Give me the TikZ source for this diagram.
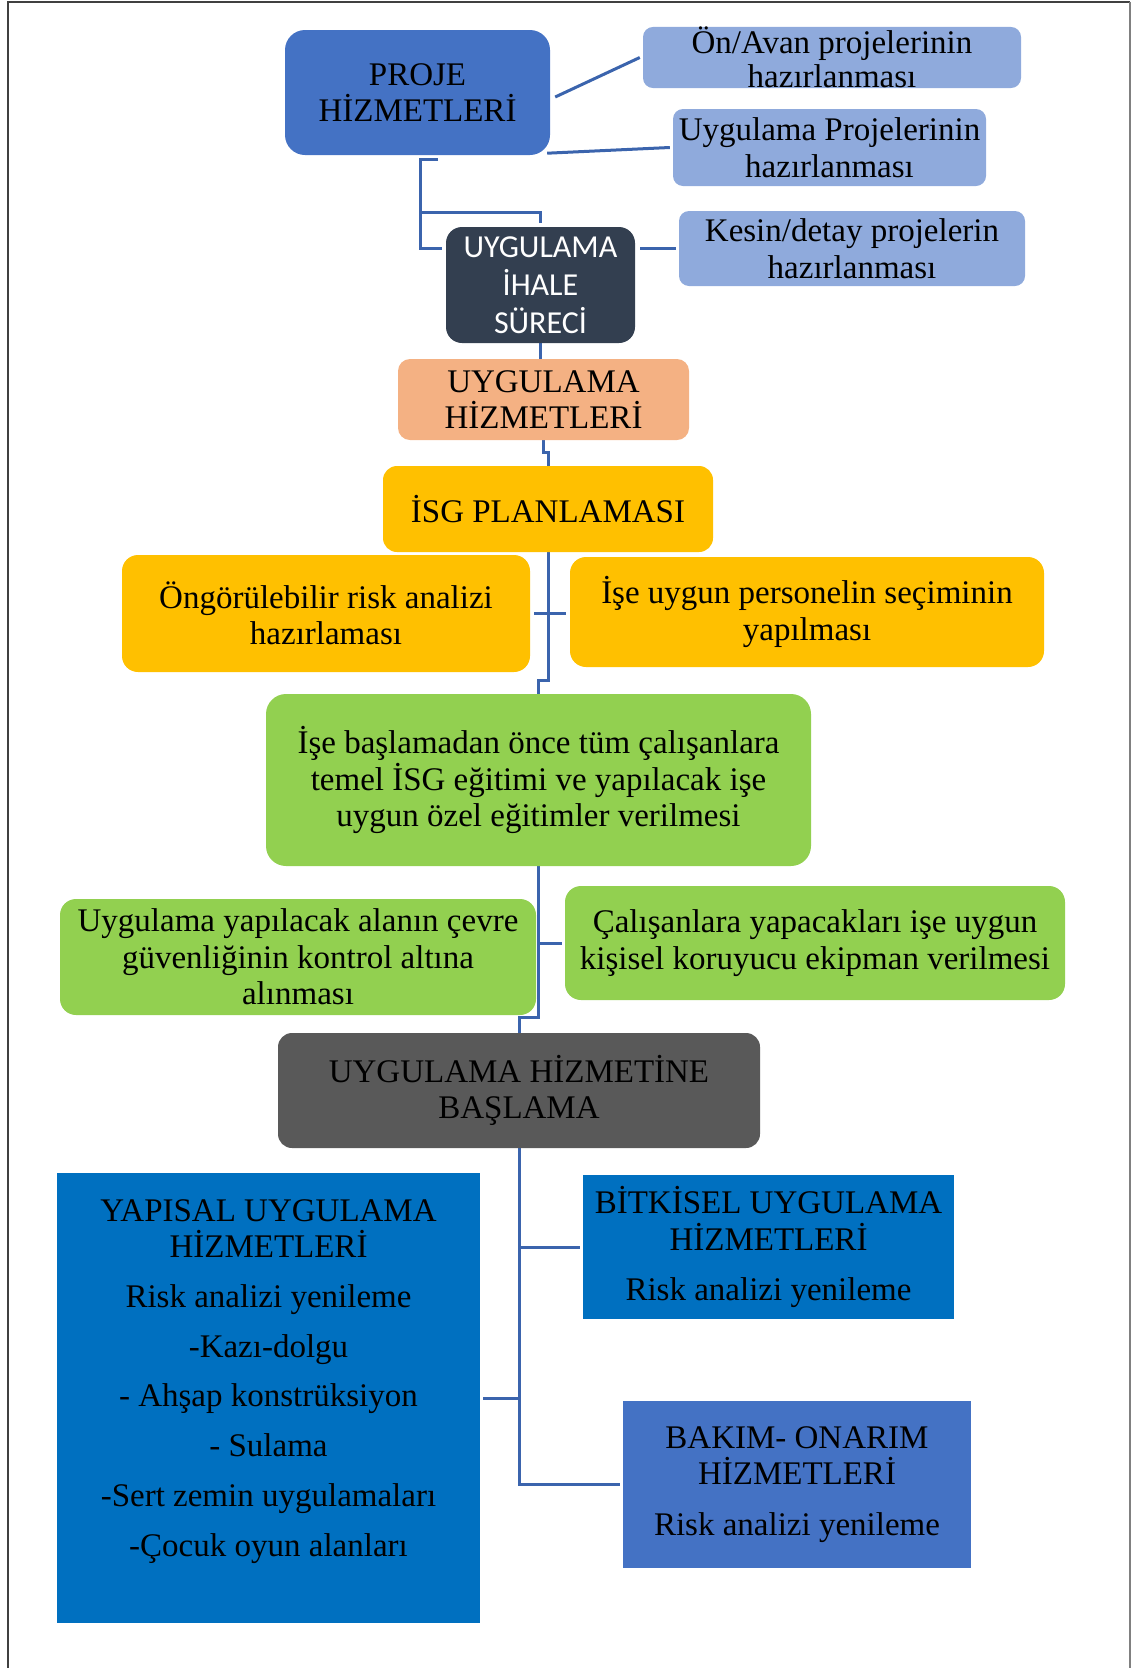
\documentclass[tikz,border=0pt]{standalone}
\usepackage{fontspec}
\setmainfont{Liberation Serif}
\newfontfamily\calibrifont{Carlito}
\usetikzlibrary{backgrounds,calc}
\definecolor{projeblue}{HTML}{4472C4}
\definecolor{lightblue}{HTML}{8FAADC}
\definecolor{slate}{HTML}{333F50}
\definecolor{peach}{HTML}{F4B183}
\definecolor{gold}{HTML}{FFC000}
\definecolor{leaf}{HTML}{92D050}
\definecolor{graybox}{HTML}{595959}
\definecolor{strongblue}{HTML}{0070C0}
\definecolor{linkblue}{HTML}{3B64AD}
\tikzset{
  box/.style={draw=none, inner sep=0pt, align=center, text=black,
    font=\fontsize{33}{36.5}\selectfont},
  txt/.style={inner sep=0pt, align=center, text=black,
    font=\fontsize{33}{36.5}\selectfont},
  conn/.style={draw=linkblue, line width=3pt},
  frameline/.style={line width=2pt}
}
\begin{document}
\begin{tikzpicture}[x=1pt,y=-1pt]
\useasboundingbox (0,0) rectangle (1131,1668);
% frame
\draw[frameline, draw=black!75] (7.5,1668) -- (7.5,1.5) -- (1129.5,1.5);
\draw[frameline, draw=black!50] (1129.5,1.5) -- (1129.5,1668);

% top part
\node[box, fill=projeblue, rounded corners=20pt, minimum width=265pt, minimum height=125pt] (proje) at (417.5,92.5) {PROJE\\HİZMETLERİ};
\node[box, fill=lightblue, rounded corners=10pt, minimum width=378pt, minimum height=61pt, font=\fontsize{33}{34}\selectfont] (onavan) at (832,57.5) {Ön/Avan projelerinin\\hazırlanması};
\node[box, fill=lightblue, rounded corners=10pt, minimum width=313pt, minimum height=77pt] (uygproj) at (829.5,147.5) {Uygulama Projelerinin\\hazırlanması};
\node[box, fill=lightblue, rounded corners=10pt, minimum width=346pt, minimum height=75pt] (kesin) at (852,248.5) {Kesin/detay projelerin\\hazırlanması};
\node[box, fill=slate, rounded corners=16pt, minimum width=189pt, minimum height=116pt, text=white, font=\calibrifont\fontsize{32}{38}\selectfont] (ihale) at (540.5,285) {UYGULAMA\\İHALE\\SÜRECİ};
\node[box, fill=peach, rounded corners=12pt, minimum width=291pt, minimum height=81pt] (uyghiz) at (543.5,399.5) {UYGULAMA\\HİZMETLERİ};
\node[box, fill=gold, rounded corners=14pt, minimum width=330pt, minimum height=86pt] (isg) at (548,509) {İSG PLANLAMASI};
\node[box, fill=gold, rounded corners=16pt, minimum width=408pt, minimum height=117pt] (ongoru) at (326,613.5) {Öngörülebilir risk analizi\\hazırlaması};
\node[box, fill=gold, rounded corners=16pt, minimum width=474pt, minimum height=110pt] (iseuygun) at (807,612) {İşe uygun personelin seçiminin\\yapılması};
\node[box, fill=leaf, rounded corners=20pt, minimum width=545pt, minimum height=172pt] (isebas) at (538.5,780) {İşe başlamadan önce tüm çalışanlara\\temel İSG eğitimi ve yapılacak işe\\uygun özel eğitimler verilmesi};
\node[box, fill=leaf, rounded corners=16pt, minimum width=476pt, minimum height=116pt] (uygyap) at (298,957) {Uygulama yapılacak alanın çevre\\güvenliğinin kontrol altına\\alınması};
\node[box, fill=leaf, rounded corners=16pt, minimum width=500pt, minimum height=114pt] (calis) at (815,943) {Çalışanlara yapacakları işe uygun\\kişisel koruyucu ekipman verilmesi};
\node[box, fill=graybox, rounded corners=14pt, minimum width=482pt, minimum height=115pt] (baslama) at (519,1090.5) {UYGULAMA HİZMETİNE\\BAŞLAMA};

% bottom part
\node[box, fill=strongblue, minimum width=423pt, minimum height=450pt] (yapisal) at (268.5,1398) {};
\node[txt, anchor=north] (yapisaltext) at (268.5,1199) {YAPISAL UYGULAMA\\HİZMETLERİ\\[13pt]Risk analizi yenileme\\[13.5pt]-Kazı-dolgu\\[13pt]- Ahşap konstrüksiyon\\[13pt]- Sulama\\[13.5pt]-Sert zemin uygulamaları\\[13.5pt]-Çocuk oyun alanları};
\node[box, fill=strongblue, minimum width=371pt, minimum height=144pt] (bitkisel) at (768.5,1247) {BİTKİSEL UYGULAMA\\HİZMETLERİ\\[14pt]Risk analizi yenileme};
\node[box, fill=projeblue, minimum width=348pt, minimum height=167pt] (bakim) at (797,1484.5) {BAKIM- ONARIM\\HİZMETLERİ\\[14pt]Risk analizi yenileme};

% connectors
\coordinate (pjoint) at ($(proje.south)+(2.5,57)$);
\begin{scope}[on background layer]
\draw[conn] ([xshift=5pt,yshift=-4.5pt]proje.east) -- ([xshift=-3pt]onavan.west);
\draw[conn] ([xshift=-3pt,yshift=2pt]proje.south east) -- ([xshift=-3pt]uygproj.west);
\draw[conn] ([xshift=20.5pt,yshift=-4pt]proje.south) -- ++(-18,0) |- ($(ihale.west |- kesin.west)+(-4,0)$);
\draw[conn] (pjoint) -| ([yshift=4pt]ihale.north);
\draw[conn] ($(ihale.east |- kesin.west)+(5,0)$) -- ([xshift=-3pt]kesin.west);
\draw[conn] (ihale.south) -- (ihale.south |- uyghiz.north);
\draw[conn] (uyghiz.south) -- ++(0,12) -| (isg.north);
\draw[conn] (isg.south) -- ++(0,128) -| (isebas.north);
\draw[conn] ([xshift=4pt]ongoru.east) -- ($(ongoru.east -| iseuygun.west)+(-4,0)$);
\draw[conn] (isebas.south) -- ++(0,151) -| (baslama.north);
\draw[conn] (isebas.south |- calis.west) -- ([xshift=-3pt]calis.west);
\draw[conn] (baslama.south) |- ([xshift=-3pt]bakim.west);
\draw[conn] (baslama.south |- yapisal.east) -- ([xshift=3pt]yapisal.east);
\draw[conn] (baslama.south |- bitkisel.west) -- ([xshift=-3pt]bitkisel.west);
\end{scope}
\end{tikzpicture}
\end{document}
